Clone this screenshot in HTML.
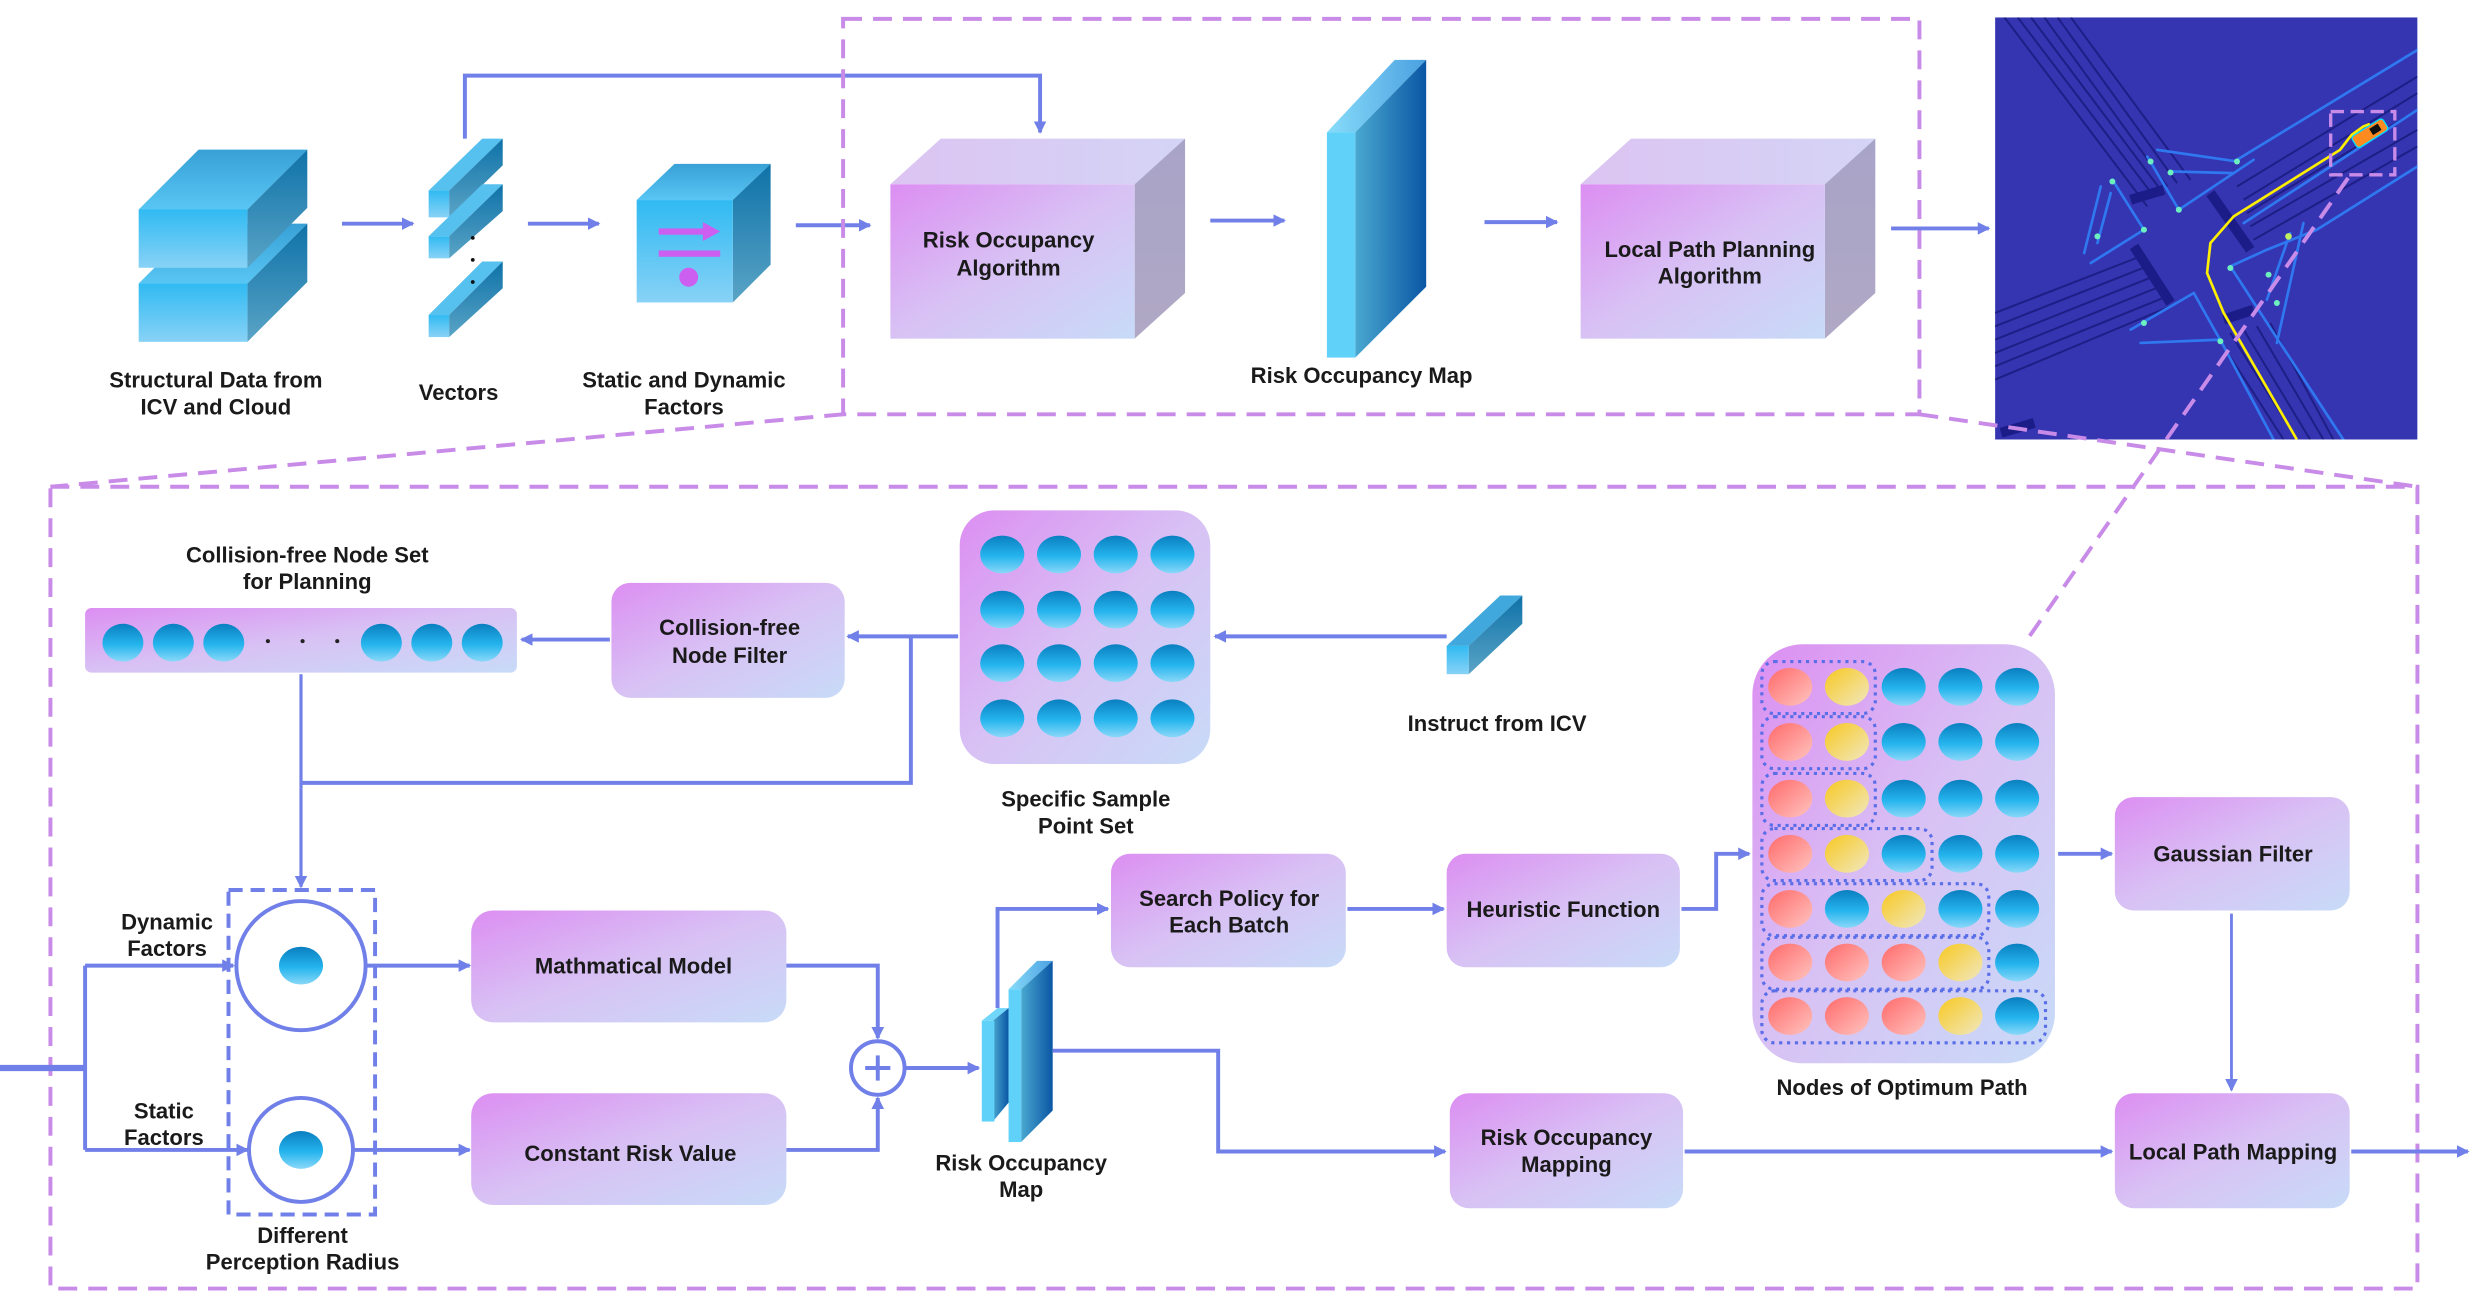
<!DOCTYPE html>
<html><head><meta charset="utf-8"><style>
html,body{margin:0;padding:0;background:#fff;}
svg{display:block;}
text{font-family:"Liberation Sans",sans-serif;font-weight:bold;font-size:14px;fill:#1a1a1a;text-anchor:middle;}
</style></head><body>
<svg width="2471" height="1298" viewBox="0 0 1568 824" preserveAspectRatio="none" xmlns="http://www.w3.org/2000/svg">
<defs>
<linearGradient id="box" x1="0" y1="0" x2="1" y2="1"><stop offset="0" stop-color="#dc8ef2"/><stop offset="0.5" stop-color="#d8c2f4"/><stop offset="1" stop-color="#c8dbf8"/></linearGradient>
<linearGradient id="ball" x1="0" y1="0" x2="0" y2="1"><stop offset="0" stop-color="#0a7fc0"/><stop offset="0.55" stop-color="#25b5ee"/><stop offset="1" stop-color="#8ad8f8"/></linearGradient>
<linearGradient id="red" x1="0" y1="0" x2="1" y2="1"><stop offset="0" stop-color="#ff6a6a"/><stop offset="1" stop-color="#ffc4c0"/></linearGradient>
<linearGradient id="yel" x1="0" y1="0" x2="1" y2="1"><stop offset="0" stop-color="#f8c820"/><stop offset="1" stop-color="#f0e8c0"/></linearGradient>
<linearGradient id="cf" x1="0" y1="0" x2="0" y2="1"><stop offset="0" stop-color="#30baf2"/><stop offset="1" stop-color="#88d2f6"/></linearGradient>
<linearGradient id="ct" x1="0" y1="0" x2="0" y2="1"><stop offset="0" stop-color="#38a0d6"/><stop offset="1" stop-color="#58c6f4"/></linearGradient>
<linearGradient id="cs" x1="0" y1="0" x2="0" y2="1"><stop offset="0" stop-color="#0e72a8"/><stop offset="1" stop-color="#5aa4c6"/></linearGradient>
<linearGradient id="slab" x1="0" y1="0" x2="1" y2="0"><stop offset="0" stop-color="#4aa8d0"/><stop offset="1" stop-color="#0a56a4"/></linearGradient>
<linearGradient id="slabt" x1="0" y1="0" x2="1" y2="0"><stop offset="0" stop-color="#88dcfa"/><stop offset="1" stop-color="#4aa0e0"/></linearGradient>
<linearGradient id="gray" x1="0" y1="0" x2="0" y2="1"><stop offset="0" stop-color="#a8a4c8"/><stop offset="1" stop-color="#b0a8c4"/></linearGradient>
<linearGradient id="toppur" x1="0" y1="0" x2="1" y2="0"><stop offset="0" stop-color="#dcc4f2"/><stop offset="1" stop-color="#d4d4f6"/></linearGradient>
<marker id="ar" markerWidth="8" markerHeight="8" refX="7" refY="4" orient="auto" markerUnits="userSpaceOnUse"><path d="M0,0 L8,4 L0,8 z" fill="#7180e8"/></marker>
</defs>

<g>
<polygon points="88,180 126,142 195,142 157,180" fill="url(#ct)"/>
<polygon points="157,180 195,142 195,179 157,217" fill="url(#cs)"/>
<rect x="88" y="180" width="69" height="37" fill="url(#cf)"/>
<polygon points="88,133 126,95 195,95 157,133" fill="url(#ct)"/>
<polygon points="157,133 195,95 195,132 157,170" fill="url(#cs)"/>
<rect x="88" y="133" width="69" height="37" fill="url(#cf)"/>
</g>
<text x="137" y="246">Structural Data from</text>
<text x="137" y="263">ICV and Cloud</text>
<line x1="217" y1="142" x2="262" y2="142" stroke="#7180e8" stroke-width="2.5" marker-end="url(#ar)"/>

<g>
<polygon points="272,121 306,88 319,88 285,121" fill="#56c0ee"/>
<polygon points="285,121 319,88 319,105 285,138" fill="url(#cs)"/>
<rect x="272" y="121" width="13" height="17" fill="url(#cf)"/>
<polygon points="272,150 306,117 319,117 285,150" fill="#56c0ee"/>
<polygon points="285,150 319,117 319,134 285,164" fill="url(#cs)"/>
<rect x="272" y="150" width="13" height="14" fill="url(#cf)"/>
<polygon points="272,200 306,166 319,166 285,200" fill="#56c0ee"/>
<polygon points="285,200 319,166 319,183 285,214" fill="url(#cs)"/>
<rect x="272" y="200" width="13" height="14" fill="url(#cf)"/>
<circle cx="300" cy="151" r="1.2" fill="#111"/><circle cx="300" cy="165" r="1.2" fill="#111"/><circle cx="300" cy="179" r="1.2" fill="#111"/>
</g>
<text x="291" y="254">Vectors</text>
<polyline points="295,88 295,48 660,48 660,84" fill="none" stroke="#7180e8" stroke-width="2.5" marker-end="url(#ar)"/>
<line x1="335" y1="142" x2="380" y2="142" stroke="#7180e8" stroke-width="2.5" marker-end="url(#ar)"/>

<g>
<polygon points="404,127 428,104 489,104 465,127" fill="url(#ct)"/>
<polygon points="465,127 489,104 489,168 465,192" fill="url(#cs)"/>
<rect x="404" y="127" width="61" height="65" fill="url(#cf)"/>
<rect x="418" y="145" width="30" height="4" fill="#cc5ef0"/><polygon points="446,141 457,147 446,153" fill="#cc5ef0"/>
<rect x="418" y="159" width="39" height="4" fill="#cc5ef0"/>
<ellipse cx="437" cy="176" rx="6" ry="6" fill="#cc5ef0"/>
</g>
<text x="434" y="246">Static and Dynamic</text>
<text x="434" y="263">Factors</text>
<line x1="505" y1="143" x2="552" y2="143" stroke="#7180e8" stroke-width="2.5" marker-end="url(#ar)"/>

<rect x="535" y="12" width="683" height="251" fill="none" stroke="#c98be8" stroke-width="2.5" stroke-dasharray="12,7"/>

<polygon points="565,117 597,88 752,88 720,117" fill="url(#toppur)"/>
<polygon points="720,117 752,88 752,186 720,215" fill="url(#gray)"/>
<rect x="565" y="117" width="155" height="98" fill="url(#box)"/>
<text x="640" y="157">Risk Occupancy</text>
<text x="640" y="175">Algorithm</text>
<line x1="768" y1="140" x2="815" y2="140" stroke="#7180e8" stroke-width="2.5" marker-end="url(#ar)"/>

<polygon points="842,84 885,38 905,38 860,84" fill="url(#slabt)"/>
<polygon points="860,84 905,38 905,182 860,227" fill="url(#slab)"/>
<rect x="842" y="84" width="18" height="143" fill="#60d2fa"/>
<text x="864" y="243">Risk Occupancy Map</text>
<line x1="942" y1="141" x2="988" y2="141" stroke="#7180e8" stroke-width="2.5" marker-end="url(#ar)"/>

<polygon points="1003,117 1035,88 1190,88 1158,117" fill="url(#toppur)"/>
<polygon points="1158,117 1190,88 1190,186 1158,215" fill="url(#gray)"/>
<rect x="1003" y="117" width="155" height="98" fill="url(#box)"/>
<text x="1085" y="163">Local Path Planning</text>
<text x="1085" y="180">Algorithm</text>
<line x1="1200" y1="145" x2="1262" y2="145" stroke="#7180e8" stroke-width="2.5" marker-end="url(#ar)"/>

<svg x="1266" y="11" width="268" height="268" viewBox="12 52 1271 1268" preserveAspectRatio="none">
<rect x="12" y="52" width="1271" height="1268" fill="#3535b2"/>
<g stroke="#1e1e86" stroke-width="6" fill="none">
<path d="M40,52 L470,620"/><path d="M80,52 L490,590"/><path d="M120,52 L510,570"/><path d="M160,52 L530,560"/><path d="M200,52 L560,550"/><path d="M240,52 L600,540"/>
<path d="M12,940 L450,770"/><path d="M12,980 L470,800"/><path d="M12,1020 L490,830"/><path d="M12,1060 L510,860"/><path d="M12,1100 L530,890"/><path d="M12,1140 L540,920"/>
<path d="M740,560 L1283,230"/><path d="M760,600 L1283,280"/><path d="M770,640 L1283,330"/><path d="M780,680 L1283,390"/><path d="M790,720 L1283,440"/>
<path d="M720,1000 L920,1320"/><path d="M760,990 L960,1320"/><path d="M800,980 L1000,1320"/><path d="M680,1010 L880,1320"/><path d="M840,970 L1030,1320"/>
</g>
<g stroke="#1c1c88" stroke-width="30"><path d="M420,600 L520,570"/><path d="M430,740 L540,910"/><path d="M660,580 L780,750"/><path d="M700,960 L790,930"/><path d="M30,1300 L130,1270"/></g>
<g stroke="#2f78f0" stroke-width="8" fill="none" stroke-linecap="round">
<path d="M740,480 L1283,150"/><path d="M980,690 L1283,500"/><path d="M760,670 L1283,330"/>
<path d="M470,470 L565,630 L790,480"/><path d="M500,450 L740,485"/><path d="M540,515 L730,520"/>
<path d="M365,540 L460,690 L300,790"/><path d="M330,560 L280,760"/><path d="M360,580 L320,730"/>
<path d="M610,880 L700,1040 L850,1320"/><path d="M420,990 L610,880"/><path d="M450,1030 L690,1020"/>
<path d="M720,800 L830,750 L980,690"/><path d="M720,800 L850,1000 L1060,1320"/><path d="M900,700 L830,900"/><path d="M940,670 L860,1030"/>
</g>
<g fill="#6df0c0"><circle cx="480" cy="485" r="9"/><circle cx="540" cy="518" r="9"/><circle cx="740" cy="485" r="9"/><circle cx="365" cy="545" r="9"/><circle cx="320" cy="710" r="9"/><circle cx="460" cy="970" r="9"/><circle cx="690" cy="1025" r="9"/><circle cx="895" cy="710" r="10" fill="#c0f060"/><circle cx="835" cy="825" r="9"/><circle cx="860" cy="910" r="9"/><circle cx="720" cy="805" r="9"/><circle cx="565" cy="630" r="9"/><circle cx="460" cy="690" r="9"/></g>
<path d="M920,1320 L700,940 L650,820 L660,730 L730,650 L1050,450 L1085,405 L1120,380 L1140,372" fill="none" stroke="#ffee00" stroke-width="8"/>
<g transform="translate(1140,400) rotate(-32)"><rect x="-55" y="-20" width="110" height="40" rx="10" fill="#ff8a20" stroke="#00e0ff" stroke-width="4"/><rect x="5" y="-12" width="30" height="22" fill="#111"/></g>
<rect x="1022" y="335" width="193" height="190" fill="none" stroke="#c98be8" stroke-width="10" stroke-dasharray="40,20"/>
</svg>

<line x1="535" y1="263" x2="32" y2="309" stroke="#c98be8" stroke-width="2.5" stroke-dasharray="12,7"/>
<line x1="1218" y1="263" x2="1534" y2="309" stroke="#c98be8" stroke-width="2.5" stroke-dasharray="12,7"/>
<line x1="1490" y1="113" x2="1285" y2="408" stroke="#c98be8" stroke-width="2.5" stroke-dasharray="12,7"/>

<rect x="32" y="309" width="1502" height="509" fill="none" stroke="#c98be8" stroke-width="2.5" stroke-dasharray="12,7"/>

<text x="195" y="357">Collision-free Node Set</text>
<text x="195" y="374">for Planning</text>
<rect x="54" y="386" width="274" height="41" rx="4" fill="url(#box)"/>
<g fill="url(#ball)">
<ellipse cx="78" cy="408" rx="13" ry="12"/><ellipse cx="110" cy="408" rx="13" ry="12"/><ellipse cx="142" cy="408" rx="13" ry="12"/>
<ellipse cx="242" cy="408" rx="13" ry="12"/><ellipse cx="274" cy="408" rx="13" ry="12"/><ellipse cx="306" cy="408" rx="13" ry="12"/></g>
<g fill="#222"><circle cx="170" cy="407" r="1.3"/><circle cx="192" cy="407" r="1.3"/><circle cx="214" cy="407" r="1.3"/></g>

<rect x="388" y="370" width="148" height="73" rx="12" fill="url(#box)"/>
<text x="463" y="403">Collision-free</text>
<text x="463" y="421">Node Filter</text>
<line x1="387" y1="406" x2="331" y2="406" stroke="#7180e8" stroke-width="2.5" marker-end="url(#ar)"/>

<rect x="609" y="324" width="159" height="161" rx="22" fill="url(#box)"/>
<g fill="url(#ball)">
<ellipse cx="636" cy="352" rx="14" ry="12"/><ellipse cx="672" cy="352" rx="14" ry="12"/><ellipse cx="708" cy="352" rx="14" ry="12"/><ellipse cx="744" cy="352" rx="14" ry="12"/>
<ellipse cx="636" cy="387" rx="14" ry="12"/><ellipse cx="672" cy="387" rx="14" ry="12"/><ellipse cx="708" cy="387" rx="14" ry="12"/><ellipse cx="744" cy="387" rx="14" ry="12"/>
<ellipse cx="636" cy="421" rx="14" ry="12"/><ellipse cx="672" cy="421" rx="14" ry="12"/><ellipse cx="708" cy="421" rx="14" ry="12"/><ellipse cx="744" cy="421" rx="14" ry="12"/>
<ellipse cx="636" cy="456" rx="14" ry="12"/><ellipse cx="672" cy="456" rx="14" ry="12"/><ellipse cx="708" cy="456" rx="14" ry="12"/><ellipse cx="744" cy="456" rx="14" ry="12"/></g>
<text x="689" y="512">Specific Sample</text>
<text x="689" y="529">Point Set</text>
<line x1="608" y1="404" x2="538" y2="404" stroke="#7180e8" stroke-width="2.5" marker-end="url(#ar)"/>
<line x1="918" y1="404" x2="771" y2="404" stroke="#7180e8" stroke-width="2.5" marker-end="url(#ar)"/>
<polyline points="578,404 578,497 191,497" fill="none" stroke="#7180e8" stroke-width="2.5"/>
<line x1="191" y1="428" x2="191" y2="563" stroke="#7180e8" stroke-width="2" marker-end="url(#ar)"/>

<polygon points="918,410 952,378 966,378 932,410" fill="#40a8dc"/>
<polygon points="932,410 966,378 966,396 932,428" fill="url(#cs)"/>
<rect x="918" y="410" width="14" height="18" fill="url(#cf)"/>
<text x="950" y="464">Instruct from ICV</text>

<rect x="145" y="565" width="93" height="206" fill="none" stroke="#7180e8" stroke-width="2.5" stroke-dasharray="9,5"/>
<circle cx="191" cy="613" r="41" fill="#fff" stroke="#7180e8" stroke-width="2.5"/>
<ellipse cx="191" cy="613" rx="14" ry="12" fill="url(#ball)"/>
<circle cx="191" cy="730" r="33" fill="#fff" stroke="#7180e8" stroke-width="2.5"/>
<ellipse cx="191" cy="730" rx="14" ry="12" fill="url(#ball)"/>
<text x="106" y="590">Dynamic</text><text x="106" y="607">Factors</text>
<text x="104" y="710">Static</text><text x="104" y="727">Factors</text>
<text x="192" y="789">Different</text><text x="192" y="806">Perception Radius</text>
<line x1="0" y1="678" x2="54" y2="678" stroke="#7180e8" stroke-width="4"/>
<polyline points="54,613 54,730" fill="none" stroke="#7180e8" stroke-width="2.5"/>
<line x1="54" y1="613" x2="148" y2="613" stroke="#7180e8" stroke-width="2.5" marker-end="url(#ar)"/>
<line x1="54" y1="730" x2="157" y2="730" stroke="#7180e8" stroke-width="2.5" marker-end="url(#ar)"/>
<line x1="232" y1="613" x2="298" y2="613" stroke="#7180e8" stroke-width="2.5" marker-end="url(#ar)"/>
<line x1="225" y1="730" x2="298" y2="730" stroke="#7180e8" stroke-width="2.5" marker-end="url(#ar)"/>

<rect x="299" y="578" width="200" height="71" rx="14" fill="url(#box)"/>
<text x="402" y="618">Mathmatical Model</text>
<rect x="299" y="694" width="200" height="71" rx="14" fill="url(#box)"/>
<text x="400" y="737">Constant Risk Value</text>
<polyline points="499,613 557,613 557,659" fill="none" stroke="#7180e8" stroke-width="2.5" marker-end="url(#ar)"/>
<polyline points="499,730 557,730 557,697" fill="none" stroke="#7180e8" stroke-width="2.5" marker-end="url(#ar)"/>
<circle cx="557" cy="678" r="17" fill="#fff" stroke="#7180e8" stroke-width="2.5"/>
<line x1="549" y1="678" x2="565" y2="678" stroke="#7180e8" stroke-width="2.5"/><line x1="557" y1="670" x2="557" y2="686" stroke="#7180e8" stroke-width="2.5"/>
<line x1="575" y1="678" x2="621" y2="678" stroke="#7180e8" stroke-width="2.5" marker-end="url(#ar)"/>

<polygon points="623,648 633,640 640,640 630,648" fill="#70d6fa"/>
<polygon points="630,648 640,640 640,700 630,712" fill="url(#slab)"/>
<rect x="623" y="648" width="8" height="64" fill="#60d2fa"/>
<polygon points="640,628 658,610 668,610 648,628" fill="url(#slabt)"/>
<polygon points="648,628 668,610 668,705 648,725" fill="url(#slab)"/>
<rect x="640" y="628" width="8" height="97" fill="#60d2fa"/>
<text x="648" y="743">Risk Occupancy</text><text x="648" y="760">Map</text>
<polyline points="633,640 633,577 703,577" fill="none" stroke="#7180e8" stroke-width="2.5" marker-end="url(#ar)"/>
<polyline points="668,667 773,667 773,731 917,731" fill="none" stroke="#7180e8" stroke-width="2.5" marker-end="url(#ar)"/>

<rect x="705" y="542" width="149" height="72" rx="12" fill="url(#box)"/>
<text x="780" y="575">Search Policy for</text><text x="780" y="592">Each Batch</text>
<line x1="855" y1="577" x2="916" y2="577" stroke="#7180e8" stroke-width="2.5" marker-end="url(#ar)"/>
<rect x="918" y="542" width="148" height="72" rx="12" fill="url(#box)"/>
<text x="992" y="582">Heuristic Function</text>
<polyline points="1067,577 1089,577 1089,542 1110,542" fill="none" stroke="#7180e8" stroke-width="2.5" marker-end="url(#ar)"/>

<rect x="1112" y="409" width="192" height="266" rx="32" fill="url(#box)"/>
<g>
<ellipse cx="1136" cy="436" rx="14" ry="12" fill="url(#red)"/><ellipse cx="1172" cy="436" rx="14" ry="12" fill="url(#yel)"/><ellipse cx="1208" cy="436" rx="14" ry="12" fill="url(#ball)"/><ellipse cx="1244" cy="436" rx="14" ry="12" fill="url(#ball)"/><ellipse cx="1280" cy="436" rx="14" ry="12" fill="url(#ball)"/>
<ellipse cx="1136" cy="471" rx="14" ry="12" fill="url(#red)"/><ellipse cx="1172" cy="471" rx="14" ry="12" fill="url(#yel)"/><ellipse cx="1208" cy="471" rx="14" ry="12" fill="url(#ball)"/><ellipse cx="1244" cy="471" rx="14" ry="12" fill="url(#ball)"/><ellipse cx="1280" cy="471" rx="14" ry="12" fill="url(#ball)"/>
<ellipse cx="1136" cy="507" rx="14" ry="12" fill="url(#red)"/><ellipse cx="1172" cy="507" rx="14" ry="12" fill="url(#yel)"/><ellipse cx="1208" cy="507" rx="14" ry="12" fill="url(#ball)"/><ellipse cx="1244" cy="507" rx="14" ry="12" fill="url(#ball)"/><ellipse cx="1280" cy="507" rx="14" ry="12" fill="url(#ball)"/>
<ellipse cx="1136" cy="542" rx="14" ry="12" fill="url(#red)"/><ellipse cx="1172" cy="542" rx="14" ry="12" fill="url(#yel)"/><ellipse cx="1208" cy="542" rx="14" ry="12" fill="url(#ball)"/><ellipse cx="1244" cy="542" rx="14" ry="12" fill="url(#ball)"/><ellipse cx="1280" cy="542" rx="14" ry="12" fill="url(#ball)"/>
<ellipse cx="1136" cy="577" rx="14" ry="12" fill="url(#red)"/><ellipse cx="1172" cy="577" rx="14" ry="12" fill="url(#ball)"/><ellipse cx="1208" cy="577" rx="14" ry="12" fill="url(#yel)"/><ellipse cx="1244" cy="577" rx="14" ry="12" fill="url(#ball)"/><ellipse cx="1280" cy="577" rx="14" ry="12" fill="url(#ball)"/>
<ellipse cx="1136" cy="611" rx="14" ry="12" fill="url(#red)"/><ellipse cx="1172" cy="611" rx="14" ry="12" fill="url(#red)"/><ellipse cx="1208" cy="611" rx="14" ry="12" fill="url(#red)"/><ellipse cx="1244" cy="611" rx="14" ry="12" fill="url(#yel)"/><ellipse cx="1280" cy="611" rx="14" ry="12" fill="url(#ball)"/>
<ellipse cx="1136" cy="645" rx="14" ry="12" fill="url(#red)"/><ellipse cx="1172" cy="645" rx="14" ry="12" fill="url(#red)"/><ellipse cx="1208" cy="645" rx="14" ry="12" fill="url(#red)"/><ellipse cx="1244" cy="645" rx="14" ry="12" fill="url(#yel)"/><ellipse cx="1280" cy="645" rx="14" ry="12" fill="url(#ball)"/>
</g>
<g fill="none" stroke="#5a6ee8" stroke-width="2" stroke-dasharray="2,3">
<rect x="1118" y="420" width="72" height="33" rx="8"/>
<rect x="1118" y="455" width="72" height="33" rx="8"/>
<rect x="1118" y="491" width="72" height="33" rx="8"/>
<rect x="1118" y="526" width="108" height="33" rx="8"/>
<rect x="1118" y="561" width="144" height="33" rx="8"/>
<rect x="1118" y="595" width="144" height="33" rx="8"/>
<rect x="1118" y="629" width="180" height="33" rx="8"/>
</g>
<text x="1207" y="695">Nodes of Optimum Path</text>
<line x1="1306" y1="542" x2="1340" y2="542" stroke="#7180e8" stroke-width="2.5" marker-end="url(#ar)"/>

<rect x="1342" y="506" width="149" height="72" rx="12" fill="url(#box)"/>
<text x="1417" y="547">Gaussian Filter</text>
<line x1="1416" y1="580" x2="1416" y2="692" stroke="#7180e8" stroke-width="1.8" marker-end="url(#ar)"/>

<rect x="920" y="694" width="148" height="73" rx="12" fill="url(#box)"/>
<text x="994" y="727">Risk Occupancy</text><text x="994" y="744">Mapping</text>
<line x1="1069" y1="731" x2="1340" y2="731" stroke="#7180e8" stroke-width="2.5" marker-end="url(#ar)"/>
<rect x="1342" y="694" width="149" height="73" rx="12" fill="url(#box)"/>
<text x="1417" y="736">Local Path Mapping</text>
<line x1="1492" y1="731" x2="1566" y2="731" stroke="#7180e8" stroke-width="2.5" marker-end="url(#ar)"/>
</svg>
</body></html>
